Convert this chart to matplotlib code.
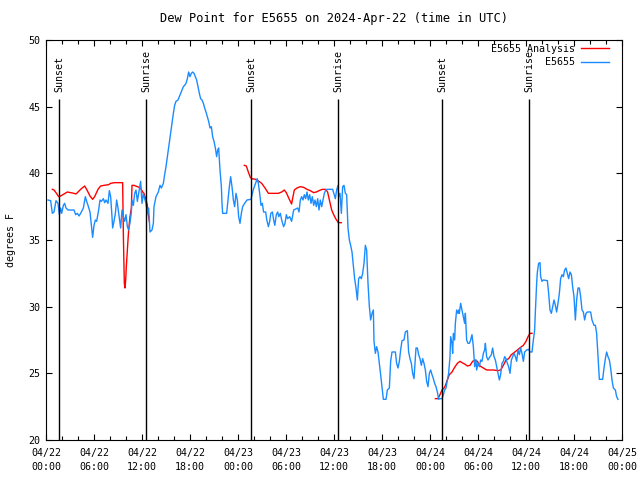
import matplotlib
matplotlib.use("Agg")
import matplotlib.pyplot as plt
import matplotlib.dates as mdates
import numpy as np
import pandas as pd

# hours since 2024-04-22 00:00 UTC, dew point in deg F
obs_hours = [0.25, 0.58, 0.79, 1.0, 1.25, 1.5, 1.67, 1.83, 1.96, 2.17, 2.33, 2.5, 2.75, 3.5, 3.71, 3.92,
             4.13, 4.33, 4.67, 4.92, 5.08, 5.25, 5.5, 5.67, 5.83, 6.0, 6.17, 6.33, 6.58, 6.75, 6.92, 7.17,
             7.33, 7.5, 7.75, 7.92, 8.08, 8.25, 8.33, 8.5, 8.67, 8.83, 9.0, 9.17, 9.33, 9.5, 9.67, 9.83,
             10.0, 10.17, 10.33, 10.5, 10.67, 10.75, 10.92, 11.08, 11.25, 11.42, 11.58, 11.83, 12.0, 12.17,
             12.33, 12.5, 12.67, 12.83, 13.0, 13.25, 13.42,
             13.5, 13.75, 14.04, 14.25, 14.42, 14.67, 14.83, 15.0, 15.17, 15.33, 15.5, 15.75, 15.92, 16.08,
             16.25, 16.5, 16.67, 16.83, 17.0, 17.17, 17.33, 17.5, 17.67, 17.83, 18.0, 18.17, 18.33, 18.5,
             18.67, 18.83, 19.0, 19.17, 19.33, 19.5, 19.67, 19.83, 20.0, 20.17, 20.33, 20.5, 20.67, 20.83,
             21.0, 21.17, 21.33, 21.46, 21.58, 21.67, 21.75, 21.92, 22.0, 22.08, 22.58, 22.75, 22.92, 23.08,
             23.25, 23.42, 23.58, 23.75, 23.92, 24.08, 24.25, 24.42, 24.58, 24.83,
             25.125, 25.625, 25.9, 26.2, 26.4, 26.54, 26.71, 26.875, 27.04, 27.2, 27.46, 27.6, 27.8, 27.96,
             28.1, 28.3, 28.46, 28.6, 28.79, 28.96, 29.1, 29.29, 29.46, 29.7, 29.875, 30.04, 30.2, 30.46,
             30.7, 30.96, 31.46, 31.625, 31.79, 31.96, 32.125, 32.29, 32.46, 32.625, 32.79, 32.96, 33.125,
             33.29, 33.46, 33.625, 33.79, 33.96, 34.125, 34.29, 34.46, 34.625, 34.79, 34.96, 35.125,
             35.5, 35.83, 36.0, 36.17, 36.33, 36.5, 36.58, 36.75, 36.92, 37.08, 37.25, 37.42, 37.58, 37.75,
             37.92, 38.08, 38.25, 38.42, 38.58, 38.75, 38.92, 39.08, 39.25, 39.42, 39.58, 39.75, 39.92,
             40.08, 40.25, 40.42, 40.58, 40.75, 40.92, 41.0, 41.17, 41.33, 41.5, 41.67, 41.83, 42.0, 42.17,
             42.5, 42.67, 42.92, 43.08, 43.25, 43.67, 43.83, 44.0, 44.17, 44.33, 44.5, 44.75, 44.92, 45.17,
             45.33, 45.5, 45.67, 45.83, 46.0, 46.17, 46.25, 46.42, 46.58, 46.75, 46.92, 47.08, 47.25, 47.42,
             47.58, 47.75, 47.92, 48.08, 48.25, 48.42, 48.58, 48.75, 48.92, 49.08,
             49.17, 49.5, 49.67, 49.83, 50.0, 50.17, 50.33, 50.5, 50.58, 50.75, 50.83, 50.92, 51.08, 51.17,
             51.33, 51.5, 51.58, 51.67, 51.83, 52.0, 52.17, 52.33, 52.42, 52.58, 52.75, 52.92, 53.08, 53.25,
             53.42, 53.58, 53.75, 53.83, 54.0, 54.17, 54.33, 54.5, 54.67, 54.83, 54.92, 55.08, 55.25, 55.5,
             55.67, 55.83, 56.0, 56.17, 56.33, 56.5, 56.67, 56.83, 57.0, 57.17, 57.33, 57.5, 57.67, 57.83,
             58.0, 58.17, 58.33, 58.5, 58.67, 58.83, 59.0, 59.17, 59.33, 59.5, 59.67, 59.83, 60.08,
             60.33, 60.5, 60.75, 60.92, 61.08, 61.17, 61.33, 61.42, 61.58, 61.75, 61.83, 62.0, 62.17, 62.67,
             62.83, 63.0, 63.17, 63.33, 63.5, 63.67, 63.83, 64.0, 64.17, 64.33, 64.5, 64.67, 64.83, 65.0,
             65.17, 65.33, 65.5, 65.67, 65.83, 66.0, 66.17, 66.33, 66.5, 66.67, 66.83, 67.0, 67.17, 67.33,
             67.5, 67.67, 68.08, 68.25, 68.5, 68.67, 68.83, 69.0, 69.17, 69.58, 69.75, 69.92, 70.08, 70.25,
             70.42, 70.58, 70.75, 70.92, 71.17, 71.33, 71.5]
obs_dewpt = [38.0, 37.95, 37.0, 37.1, 37.95, 37.75, 36.9, 37.4, 37.0, 37.6, 37.75, 37.4, 37.25, 37.25, 36.9, 37.0,
             36.8, 37.0, 37.4, 38.25, 37.9, 37.6, 37.1, 36.1, 35.2, 36.1, 36.5, 36.4, 37.25, 38.0, 37.9, 38.1,
             37.8, 38.0, 37.75, 38.7, 38.25, 36.75, 35.9, 36.4, 37.0, 38.0, 37.4, 36.6, 35.9, 37.25, 36.75, 36.4,
             36.9, 36.0, 35.75, 36.3, 37.1, 38.0, 37.6, 38.5, 38.75, 37.9, 38.5, 39.4, 37.75, 38.5,
             38.1, 37.75, 37.0, 37.4, 35.6, 35.75, 36.25,
             37.5, 38.25, 38.6, 39.1, 38.9, 39.25, 39.9, 40.5, 41.25, 42.0, 42.75, 43.75, 44.5, 45.1,
             45.4, 45.5, 45.75, 46.0, 46.25, 46.5, 46.6, 46.75, 47.1, 47.6, 47.25, 47.5, 47.6, 47.5,
             47.25, 47.0, 46.5, 46.0, 45.6, 45.5, 45.25, 44.9, 44.6, 44.25, 43.9, 43.4, 43.5, 42.75,
             42.4, 41.9, 41.25, 41.75, 41.9, 41.0, 40.25, 39.0, 37.75, 37.0, 37.0, 38.0, 39.0, 39.75,
             39.0, 38.0, 37.5, 38.5, 38.0, 36.75, 36.25, 37.0, 37.5, 37.75,
             38.0, 38.05, 38.75, 39.25, 39.6, 39.25, 38.5, 37.6, 37.75, 37.1, 37.1, 36.5, 36.0, 36.4,
             37.0, 37.1, 36.5, 36.1, 36.9, 37.1, 36.75, 37.0, 36.5, 36.0, 36.25, 36.9, 36.6, 36.75,
             36.4, 37.25, 37.4, 37.1, 38.0, 38.25, 38.0, 38.4, 38.1, 38.6, 38.0, 38.4, 37.75,
             38.25, 37.6, 38.0, 37.5, 38.1, 37.25, 38.0, 37.5, 38.0, 38.5, 38.75, 38.8,
             38.8, 38.8, 38.45, 38.1, 38.75, 39.1, 38.25, 38.5, 37.0, 39.0, 39.1, 38.5, 38.4, 35.9,
             35.0, 34.6, 34.1, 33.1, 32.1, 31.4, 30.5, 32.1, 32.25, 32.1, 32.5, 33.25, 34.6,
             34.25, 31.75, 30.0, 29.0, 29.5, 29.75, 27.4, 26.5, 27.0, 26.6, 25.75, 24.9, 24.0, 23.05,
             23.05, 23.75, 23.9, 25.9, 26.6, 26.6, 25.75, 25.4, 25.9, 26.75, 27.45, 27.5, 28.1, 28.2,
             26.6, 26.1, 25.75, 25.0, 24.6, 26.25, 26.9, 26.9, 26.4, 26.1, 25.6, 26.1, 25.75, 25.25,
             24.4, 24.0, 25.0, 25.25, 24.9, 24.6, 24.25, 24.0, 23.6, 23.05,
             23.1, 23.1, 23.4, 23.75, 23.9, 24.5, 25.0, 26.25, 27.75, 27.25, 26.5, 28.0, 27.5, 28.75,
             29.75, 29.5, 29.75, 29.5, 30.25, 29.75, 29.25, 28.75, 29.5, 27.5, 27.25, 27.25, 27.5, 27.9,
             27.0, 25.5, 26.0, 25.25, 25.75, 25.5, 26.0, 25.9, 26.5, 26.75, 27.25, 26.25, 26.0, 26.25,
             26.4, 26.9, 26.25, 26.0, 25.5, 25.0, 24.5, 24.9, 25.75, 25.9, 26.25, 26.1, 25.75, 25.5,
             25.0, 26.0, 26.25, 26.5, 26.25, 25.9, 26.75, 26.4, 26.9, 26.5, 25.9, 26.6, 26.75,
             26.8, 26.6, 26.6, 27.5, 28.25, 29.6, 31.75, 32.6, 33.25, 33.3, 32.25, 31.9, 32.0, 31.95,
             31.0, 29.75, 29.5, 30.0, 30.5, 30.1, 29.6, 30.25, 31.0, 32.1, 32.4, 32.25, 32.75, 32.9,
             32.5, 32.1, 32.6, 32.4, 31.5, 30.75, 29.0, 30.5, 31.4, 31.4, 30.75, 29.75, 29.6, 29.0,
             29.5, 29.6, 29.6, 29.0, 28.6, 28.6, 28.0, 26.25, 24.55, 24.55, 25.4, 26.1, 26.6, 26.25,
             26.0, 25.4, 24.5, 23.9, 23.75, 23.25, 23.05]

# analysis, three separate runs
ana_hours = [
    [0.79, 1.0, 1.25, 1.58, 1.83, 2.25, 2.67, 3.08, 3.5, 3.75, 4.0, 4.42, 4.83, 5.08, 5.5, 5.83,
     6.08, 6.5, 6.83, 7.25, 7.83, 8.08, 8.58, 9.58, 9.67, 9.79, 9.875, 9.96, 10.04, 10.17, 10.33,
     10.5, 10.67, 10.75, 11.0, 11.42, 11.83, 12.08, 12.25, 12.5, 12.67, 12.75, 12.92],
    [24.79, 25.04, 25.29, 25.54, 25.71, 26.2, 26.625, 26.96, 27.375, 27.8, 29.04, 29.46, 29.79,
     30.04, 30.375, 30.7, 30.79, 31.04, 31.375, 31.79, 32.2, 32.625, 33.04, 33.46, 33.79, 34.125,
     34.54, 34.96, 35.2, 35.46, 35.71, 35.96, 36.21, 36.54, 36.92],
    [48.67, 49.0, 49.25, 49.5, 49.83, 50.17, 50.42, 50.75, 51.08, 51.42, 51.75, 52.0, 52.33, 52.67,
     53.0, 53.33, 53.67, 53.92, 54.25, 54.67, 55.08, 55.92, 56.5, 56.83, 57.17, 57.5, 57.83, 58.17,
     58.5, 58.92, 59.33, 59.67, 60.0, 60.25, 60.5, 60.75],
]
ana_dewpt = [
    [38.8, 38.75, 38.55, 38.25, 38.3, 38.45, 38.6, 38.55, 38.5, 38.45, 38.6, 38.85, 39.05, 38.8, 38.3, 38.05,
     38.25, 38.8, 39.05, 39.1, 39.15, 39.25, 39.3, 39.3, 35.4, 31.75, 31.4, 32.0, 33.0, 34.25, 35.75,
     36.75, 37.4, 39.1, 39.1, 39.0, 38.9, 38.6, 38.5, 38.0, 37.6, 37.0, 36.4],
    [40.6, 40.55, 40.1, 39.7, 39.6, 39.55, 39.4, 39.25, 38.9, 38.5, 38.5, 38.6, 38.75,
     38.55, 38.1, 37.7, 38.0, 38.75, 38.9, 39.0, 38.95, 38.8, 38.7, 38.55, 38.6, 38.7,
     38.8, 38.8, 38.6, 37.9, 37.25, 36.9, 36.6, 36.3, 36.3],
    [23.1, 23.1, 23.4, 23.75, 23.95, 24.5, 24.9, 25.1, 25.45, 25.75, 25.9, 25.8, 25.7, 25.55,
     25.6, 25.9, 26.0, 25.9, 25.55, 25.4, 25.25, 25.25, 25.2, 25.25, 25.6, 26.0, 26.1, 26.4,
     26.55, 26.75, 26.95, 27.1, 27.4, 27.75, 28.0, 28.0],
]

sun_hours = [1.66, 12.54, 25.66, 36.54, 49.54, 60.41]
sun_labels = ["Sunset", "Sunrise", "Sunset", "Sunrise", "Sunset", "Sunrise"]

start = pd.Timestamp("2024-04-22 00:00")
end = pd.Timestamp("2024-04-25 00:00")
t0 = mdates.date2num(start)

def to_x(hours):
    return t0 + np.array(hours) / 24.0

plt.rcParams["font.family"] = "DejaVu Sans Mono"
plt.rcParams["font.size"] = 7.2

fig = plt.figure(figsize=(6.4, 4.8), dpi=100)
ax = fig.add_axes([46 / 640, 40 / 480, 576 / 640, 400 / 480])

for i in range(len(ana_hours)):
    ax.plot(to_x(ana_hours[i]), ana_dewpt[i], color="#ff0000", lw=1.0,
            label="E5655 Analysis" if i == 0 else None)
ax.plot(to_x(obs_hours), obs_dewpt, color="#1a8cff", lw=1.0, label="E5655")

for h, lab in zip(sun_hours, sun_labels):
    ax.vlines(to_x([h]), 20, 45.6, color="black", lw=1.0)
    ax.text(to_x([h])[0], 46.1, lab, rotation=90, ha="center", va="bottom")

ax.set_xlim(mdates.date2num(start), mdates.date2num(end))
ax.set_ylim(20, 50)
ax.set_yticks(np.arange(20, 51, 5))
ax.xaxis.set_major_locator(mdates.HourLocator(byhour=[0, 6, 12, 18]))
ax.xaxis.set_minor_locator(mdates.HourLocator(interval=2))
ax.xaxis.set_major_formatter(mdates.DateFormatter("%m/%d\n%H:%M"))
ax.tick_params(which="both", direction="in", top=True, right=True, width=0.8)
ax.tick_params(which="major", length=4)
ax.tick_params(axis="x", which="major", pad=6)
ax.tick_params(axis="y", which="major", pad=4)
ax.tick_params(which="minor", length=3)

ax.set_title("Dew Point for E5655 on 2024-Apr-22 (time in UTC)", pad=13)
ax.set_ylabel("degrees F", labelpad=9)

ax.legend(loc="upper right", bbox_to_anchor=(0.978, 0.99), frameon=False, markerfirst=False,
          borderpad=0, borderaxespad=0, handlelength=2.8, handletextpad=0.6, labelspacing=0.35)

fig.canvas.draw()
for lbl in ax.get_xticklabels():
    lbl.set_linespacing(1.45)

fig.savefig("out.png", dpi=100)
